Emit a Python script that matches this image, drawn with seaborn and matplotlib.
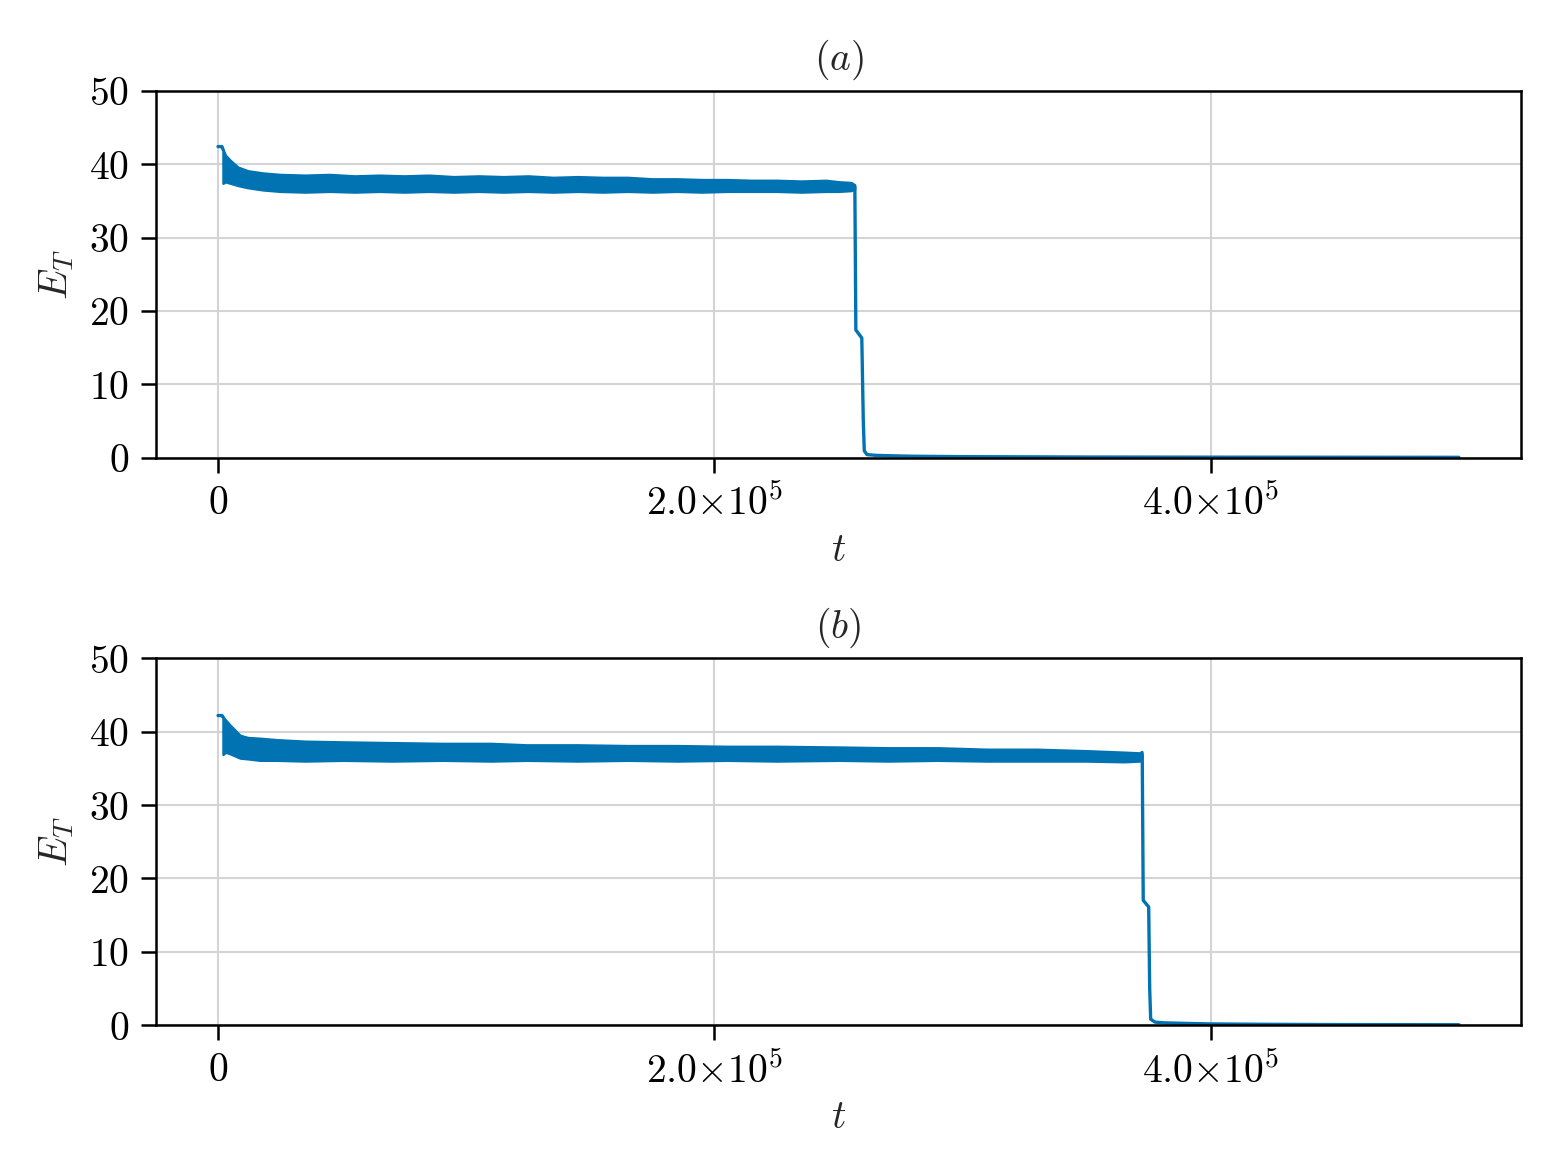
import numpy as np
import pandas as pd
import matplotlib
matplotlib.use("Agg")
import matplotlib.pyplot as plt
import seaborn as sns

# ---- panel (a) ----
a_head_t = [0, 1600, 2000]
a_head_e = [42.4, 42.4, 42.0]

a_band_t = [2000, 3000, 5000, 8000, 12000, 18000, 25000, 35000, 45000, 55000,
            65000, 75000, 85000, 95000, 105000, 115000, 125000, 135000, 145000,
            155000, 165000, 175000, 185000, 195000, 205000, 215000, 225000,
            235000, 245000, 250000, 255000, 256500]
a_band_hi = [42.0, 41.2, 40.5, 39.6, 39.1, 38.8, 38.6, 38.5, 38.6, 38.4,
             38.5, 38.4, 38.5, 38.3, 38.4, 38.3, 38.4, 38.2, 38.3,
             38.2, 38.2, 38.0, 38.0, 37.9, 37.9, 37.8, 37.8,
             37.7, 37.8, 37.6, 37.5, 37.2]
a_band_lo = [37.4, 37.6, 37.4, 37.1, 36.8, 36.5, 36.3, 36.2, 36.3, 36.2,
             36.3, 36.2, 36.3, 36.2, 36.3, 36.2, 36.3, 36.2, 36.3,
             36.2, 36.3, 36.2, 36.3, 36.2, 36.3, 36.3, 36.3,
             36.2, 36.3, 36.3, 36.4, 36.6]

a_drop_t = [256500, 256600, 257000, 259400, 260000, 260400, 261500, 265000,
            270000, 280000, 300000, 350000, 400000, 450000, 500000]
a_drop_e = [37.0, 36.8, 17.4, 16.3, 5.0, 0.9, 0.4, 0.3,
            0.25, 0.18, 0.12, 0.07, 0.05, 0.04, 0.03]

# ---- panel (b) ----
b_head_t = [0, 1600, 2000]
b_head_e = [42.2, 42.2, 42.0]

b_band_t = [2000, 3000, 4800, 8900, 12000, 16900, 23800, 35000, 50400, 70000,
            90600, 110000, 124500, 145000, 165000, 185000, 205000, 225000,
            250500, 270000, 290000, 310000, 330000, 350000, 365000, 371500,
            372200]
b_band_hi = [42.0, 41.6, 40.9, 39.5, 39.2, 39.1, 38.9, 38.7, 38.6, 38.5,
             38.4, 38.4, 38.2, 38.2, 38.1, 38.1, 38.0, 38.0,
             37.9, 37.8, 37.8, 37.6, 37.6, 37.4, 37.2, 37.1,
             37.3]
b_band_lo = [36.9, 37.2, 37.0, 36.4, 36.3, 36.1, 36.1, 36.0, 36.1, 36.0,
             36.1, 36.0, 36.1, 36.0, 36.1, 36.0, 36.1, 36.0,
             36.1, 36.0, 36.1, 36.0, 36.0, 36.0, 35.9, 36.0,
             36.4]

b_drop_t = [372200, 372400, 372800, 375000, 375400, 375800, 377500, 381000,
            390000, 400000, 420000, 450000, 500000]
b_drop_e = [37.1, 36.8, 17.0, 16.1, 5.0, 0.8, 0.4, 0.3,
            0.22, 0.15, 0.1, 0.06, 0.04]

panels = [
    ("$(a)$", a_head_t, a_head_e, a_band_t, a_band_lo, a_band_hi, a_drop_t, a_drop_e),
    ("$(b)$", b_head_t, b_head_e, b_band_t, b_band_lo, b_band_hi, b_drop_t, b_drop_e),
]

sns.set_theme(style="ticks")
plt.rcParams["mathtext.fontset"] = "cm"
plt.rcParams["font.family"] = ["DejaVu Serif"]
plt.rcParams["font.size"] = 9

color = sns.color_palette("colorblind")[0]

fig, axes = plt.subplots(2, 1, figsize=(5.21, 3.907), dpi=300)
fig.subplots_adjust(left=0.0998, right=0.9731, top=0.9224, bottom=0.1254, hspace=0.5476)

yticks = [0, 10, 20, 30, 40, 50]
xticks = [0, 200000, 400000]
xlabels = ["$0$", r"$2.0{\times}10^{\mathsf{5}}$", r"$4.0{\times}10^{\mathsf{5}}$"]

fs = 9.5
for ax, (title, ht, he, bt, blo, bhi, dt, de) in zip(axes, panels):
    ax.grid(True, color="#d4d4d4", linewidth=0.5)
    ax.set_axisbelow(True)

    ax.fill_between(bt, blo, bhi, color=color, linewidth=0.6, edgecolor=color)
    line_df = pd.DataFrame({"t": ht + list(dt), "E": he + list(de),
                            "part": ["head"] * len(ht) + ["drop"] * len(dt)})
    sns.lineplot(data=line_df, x="t", y="E", units="part", estimator=None, sort=False,
                 color=color, linewidth=0.8, ax=ax)

    ax.set_xlim(-25000, 525000)
    ax.set_ylim(0, 50)
    ax.set_yticks(yticks)
    ax.set_yticklabels([f"${v}$" for v in yticks], fontsize=fs)
    ax.set_xticks(xticks)
    ax.set_xticklabels(xlabels, fontsize=fs)
    ax.set_xlabel("$t$", fontsize=fs, labelpad=2)
    ax.set_ylabel("$E_T$", fontsize=fs, labelpad=3)
    ax.set_title(title, fontsize=fs, pad=5)
    ax.tick_params(length=3.5, width=0.6, colors="black", pad=3)
    for sp in ax.spines.values():
        sp.set_linewidth(0.6)
        sp.set_color("black")

fig.savefig("out.png", dpi=300)
